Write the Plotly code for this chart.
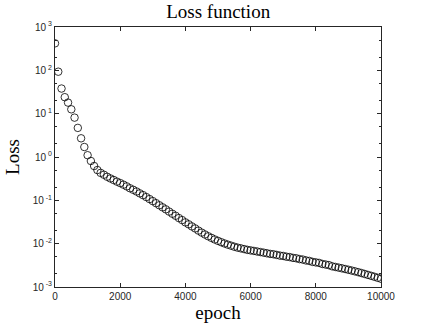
import plotly.graph_objects as go

# epochs sampled every 100 steps
epochs = list(range(0, 10001, 100))

loss = [
    420, 93, 38, 24, 18, 12.6, 8.1, 4.7, 2.7, 1.7,
    1.1, 0.81, 0.62, 0.50, 0.43, 0.39, 0.35, 0.32, 0.295, 0.27,
    0.25, 0.23, 0.21, 0.19, 0.175, 0.16, 0.145, 0.132, 0.119, 0.107,
    0.096, 0.086, 0.077, 0.069, 0.062, 0.055, 0.049, 0.044, 0.039, 0.035,
    0.031, 0.028, 0.025, 0.0225, 0.020, 0.018, 0.0163, 0.0148, 0.0136, 0.0125,
    0.0116, 0.0108, 0.0101, 0.0095, 0.0090, 0.0085, 0.0081, 0.0078, 0.0075, 0.0072,
    0.0070, 0.0068, 0.0066, 0.0064, 0.0062, 0.0060, 0.0058, 0.0057, 0.0055, 0.0053,
    0.0052, 0.0050, 0.0049, 0.0047, 0.0046, 0.0044, 0.0043, 0.0041, 0.0040, 0.0038,
    0.0037, 0.0036, 0.0034, 0.0033, 0.0032, 0.0030, 0.0029, 0.0028, 0.0027, 0.0026,
    0.0025, 0.0024, 0.0023, 0.0022, 0.0021, 0.00200, 0.00190, 0.00181, 0.00172, 0.00163,
    0.00155,
]

x_ticks = [0, 2000, 4000, 6000, 8000, 10000]
x_labels = ["0", "2000", "4000", "6000", "8000", "10000"]
y_ticks = [1e-3, 1e-2, 1e-1, 1e0, 1e1, 1e2, 1e3]
y_labels = ["10<sup> -3</sup>", "10<sup> -2</sup>", "10<sup> -1</sup>", "10<sup> 0</sup>",
            "10<sup> 1</sup>", "10<sup> 2</sup>", "10<sup> 3</sup>"]

AXIS_COLOR = "#262626"
SERIF = "Liberation Serif, DejaVu Serif, serif"

fig = go.Figure()
fig.add_trace(go.Scatter(
    x=epochs, y=loss, mode="markers",
    marker=dict(symbol="circle-open", size=7.5, color="black", line=dict(width=0.8)),
    showlegend=False,
))

fig.update_layout(
    width=422, height=327,
    margin=dict(l=55, r=41, t=27, b=40, autoexpand=False),
    paper_bgcolor="white", plot_bgcolor="white",
    title=dict(text="Loss function", x=0.517, xanchor="center", y=0.965, yanchor="middle",
               font=dict(family=SERIF, size=19, color="black")),
    font=dict(family="Liberation Sans, Arial, sans-serif", size=10, color=AXIS_COLOR),
)

fig.update_xaxes(
    range=[0, 10000], tickvals=x_ticks, ticktext=x_labels, showgrid=False, zeroline=False,
    automargin=False,
    showline=True, linecolor=AXIS_COLOR, linewidth=1, mirror="ticks",
    ticks="inside", ticklen=4, tickcolor=AXIS_COLOR,
    title=dict(text="epoch", font=dict(family=SERIF, size=19, color="black"), standoff=4),
)
fig.update_yaxes(
    type="log", range=[-3, 3], tickvals=y_ticks, ticktext=y_labels,
    showgrid=False, zeroline=False, automargin=False,
    showline=True, linecolor=AXIS_COLOR, linewidth=1, mirror="ticks",
    ticks="inside", ticklen=4, tickcolor=AXIS_COLOR,
    minor=dict(ticks="inside", ticklen=2, tickcolor=AXIS_COLOR, showgrid=False),
    title=dict(text="Loss", font=dict(family=SERIF, size=19, color="black"), standoff=8),
)

# page body has an 8px default margin; drop it so the figure sits at the window corner
fig.write_html("out.html", config={"displayModeBar": False},
               post_script="document.body.style.margin='0';")
